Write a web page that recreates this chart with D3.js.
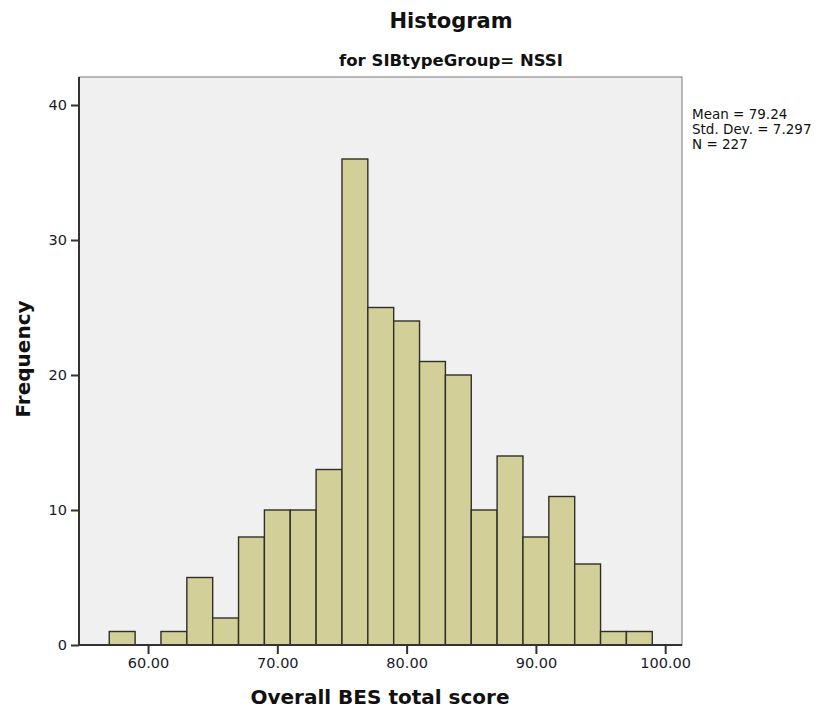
<!DOCTYPE html>
<html><head><meta charset="utf-8">
<script src="https://cdn.jsdelivr.net/npm/d3@7"></script>
<style>body{margin:0;background:#fff;} svg{display:block;}</style>
</head><body>
<script>
const binStarts = [57,59,61,63,65,67,69,71,73,75,77,79,81,83,85,87,89,91,93,95,97];
const frequencies = [1,0,1,5,2,8,10,10,13,36,25,24,21,20,10,14,8,11,6,1,1];
const binWidth = 2;
const xTicks = [60,70,80,90,100];
const yTicks = [0,10,20,30,40];
const statsLines = ["Mean = 79.24","Std. Dev. = 7.297","N = 227"];

const W=829,H=712;
const svg=d3.select("body").append("svg").attr("width",W).attr("height",H);
const font="'DejaVu Sans', 'Liberation Sans', sans-serif";
const L=79,R=682,T=77,B=645;
const x=d3.scaleLinear().domain([54.66,101.3]).range([L,R]);
const y=d3.scaleLinear().domain([0,40]).range([B,105]);

svg.append("rect").attr("x",L).attr("y",T).attr("width",R-L).attr("height",B-T)
  .attr("fill","#f0f0f0").attr("stroke","#7a7a7a").attr("stroke-width",1);

svg.append("g").selectAll("rect").data(binStarts.map((s,i)=>({s,f:frequencies[i]})).filter(d=>d.f>0))
  .join("rect")
  .attr("x",d=>x(d.s)).attr("width",d=>x(d.s+binWidth)-x(d.s))
  .attr("y",d=>y(d.f)).attr("height",d=>y(0)-y(d.f))
  .attr("fill","#d3cf98").attr("stroke","#2f2f28").attr("stroke-width",1.4);

const xa=svg.append("g").attr("transform",`translate(0,${B})`)
  .call(d3.axisBottom(x).tickValues(xTicks).tickFormat(d3.format(".2f")).tickSize(9).tickPadding(4));
const ya=svg.append("g").attr("transform",`translate(${L},0)`)
  .call(d3.axisLeft(y).tickValues(yTicks).tickSize(8).tickPadding(4));
[xa,ya].forEach(a=>{
  a.select(".domain").attr("stroke","#333").attr("stroke-width",2);
  a.selectAll(".tick line").attr("stroke","#333").attr("stroke-width",2);
  a.selectAll("text").attr("font-family",font).attr("font-size",14.5).attr("fill","#1a1a2a");
});
xa.select(".domain").attr("d",`M${L},0H${R}`);
ya.select(".domain").attr("d",`M0,${B}V${T}`);

svg.append("text").attr("x",451).attr("y",28).attr("text-anchor","middle")
  .attr("font-family",font).attr("font-weight","bold").attr("font-size",21).attr("fill","#111").text("Histogram");
svg.append("text").attr("x",451).attr("y",66).attr("text-anchor","middle")
  .attr("font-family",font).attr("font-weight","bold").attr("font-size",16.5).attr("fill","#111").text("for SIBtypeGroup= NSSI");
svg.append("text").attr("x",380).attr("y",704).attr("text-anchor","middle")
  .attr("font-family",font).attr("font-weight","bold").attr("font-size",20).attr("fill","#111").text("Overall BES total score");
svg.append("text").attr("transform","translate(30,359) rotate(-90)").attr("text-anchor","middle")
  .attr("font-family",font).attr("font-weight","bold").attr("font-size",20).attr("fill","#111").text("Frequency");

svg.append("g").selectAll("text").data(statsLines).join("text")
  .attr("x",692).attr("y",(d,i)=>119+i*15)
  .attr("font-family",font).attr("font-size",13.5).attr("fill","#111").text(d=>d);
</script>
</body></html>
